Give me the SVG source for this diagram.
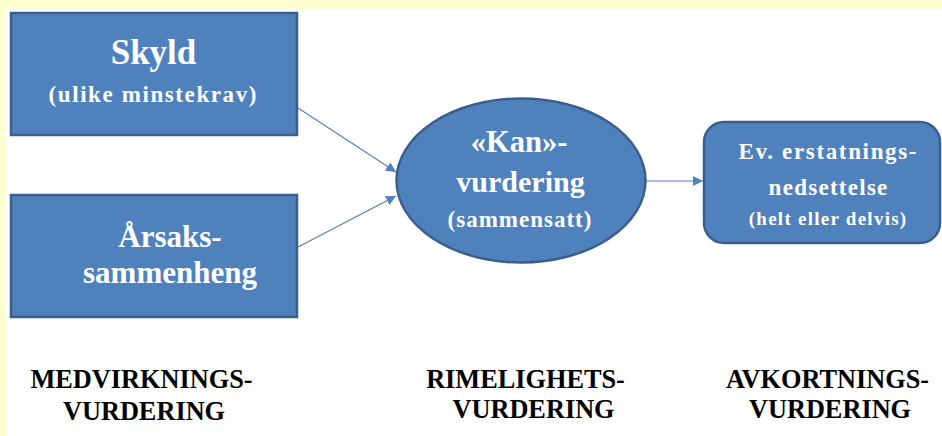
<svg xmlns="http://www.w3.org/2000/svg" width="942" height="436" viewBox="0 0 942 436">
<style>
.node{fill:#4f81bd;stroke:#3b5f8c;stroke-width:2.5}
.wt{fill:#ffffff;text-anchor:middle}
.bt{fill:#000000;text-anchor:middle}
.conn{stroke:#4f81bd;stroke-width:1.2;fill:none;marker-end:url(#ah)}
</style>
<defs>
<marker id="ah" viewBox="0 0 10 10" refX="10" refY="5" markerWidth="10" markerHeight="10" markerUnits="userSpaceOnUse" orient="auto">
<path d="M0,0 L10,5 L0,10 z" fill="#4f81bd"/>
</marker>
</defs>
<rect x="0" y="0" width="942" height="436" fill="#ffffff"/>
<rect x="0" y="0" width="942" height="9" fill="#fffed0"/>
<rect x="0" y="0" width="5" height="436" fill="#fffed0"/>
<g id="connectors">
<line class="conn" x1="298" y1="108" x2="396" y2="172"/>
<line class="conn" x1="298" y1="247" x2="396" y2="196"/>
<line class="conn" x1="646" y1="181" x2="703" y2="181"/>
</g>
<g id="skyld">
<rect class="node" x="11" y="13" width="286" height="122"/>
<text class="wt" x="153.5" y="64" font-family="Liberation Serif" font-weight="bold" font-size="35">Skyld</text>
<text class="wt" x="153.3" y="102" font-family="Liberation Serif" font-weight="bold" font-size="23" letter-spacing="1.6">(ulike minstekrav)</text>
</g>
<g id="arsak">
<rect class="node" x="11" y="195" width="286" height="122"/>
<text class="wt" x="170" y="247" font-family="Liberation Serif" font-weight="bold" font-size="31">Årsaks-</text>
<text class="wt" x="170" y="283" font-family="Liberation Serif" font-weight="bold" font-size="31">sammenheng</text>
</g>
<g id="kan">
<ellipse class="node" cx="521" cy="180.5" rx="124.5" ry="82"/>
<text class="wt" x="519" y="152" font-family="Liberation Serif" font-weight="bold" font-size="30.5">«Kan»-</text>
<text class="wt" x="520.5" y="192" font-family="Liberation Serif" font-weight="bold" font-size="30">vurdering</text>
<text class="wt" x="520" y="227" font-family="Liberation Serif" font-weight="bold" font-size="23" letter-spacing="1">(sammensatt)</text>
</g>
<g id="avkortning">
<rect class="node" x="704" y="122" width="236" height="121" rx="20" ry="20"/>
<text class="wt" x="828.3" y="159" font-family="Liberation Serif" font-weight="bold" font-size="23" letter-spacing="1.65">Ev. erstatnings-</text>
<text class="wt" x="828.6" y="195" font-family="Liberation Serif" font-weight="bold" font-size="23" letter-spacing="1.27">nedsettelse</text>
<text class="wt" x="828.1" y="225" font-family="Liberation Serif" font-weight="bold" font-size="19" letter-spacing="1.26">(helt eller delvis)</text>
</g>
<g id="labels">
<text class="bt" x="141.5" y="388" font-family="Liberation Serif" font-weight="bold" font-size="26.3">MEDVIRKNINGS-</text>
<text class="bt" x="144" y="420" font-family="Liberation Serif" font-weight="bold" font-size="26.3">VURDERING</text>
<text class="bt" x="525.5" y="388" font-family="Liberation Serif" font-weight="bold" font-size="26.3">RIMELIGHETS-</text>
<text class="bt" x="533.5" y="418" font-family="Liberation Serif" font-weight="bold" font-size="26.3">VURDERING</text>
<text class="bt" x="827.5" y="388" font-family="Liberation Serif" font-weight="bold" font-size="26.3">AVKORTNINGS-</text>
<text class="bt" x="830" y="418" font-family="Liberation Serif" font-weight="bold" font-size="26.3">VURDERING</text>
</g>
</svg>
